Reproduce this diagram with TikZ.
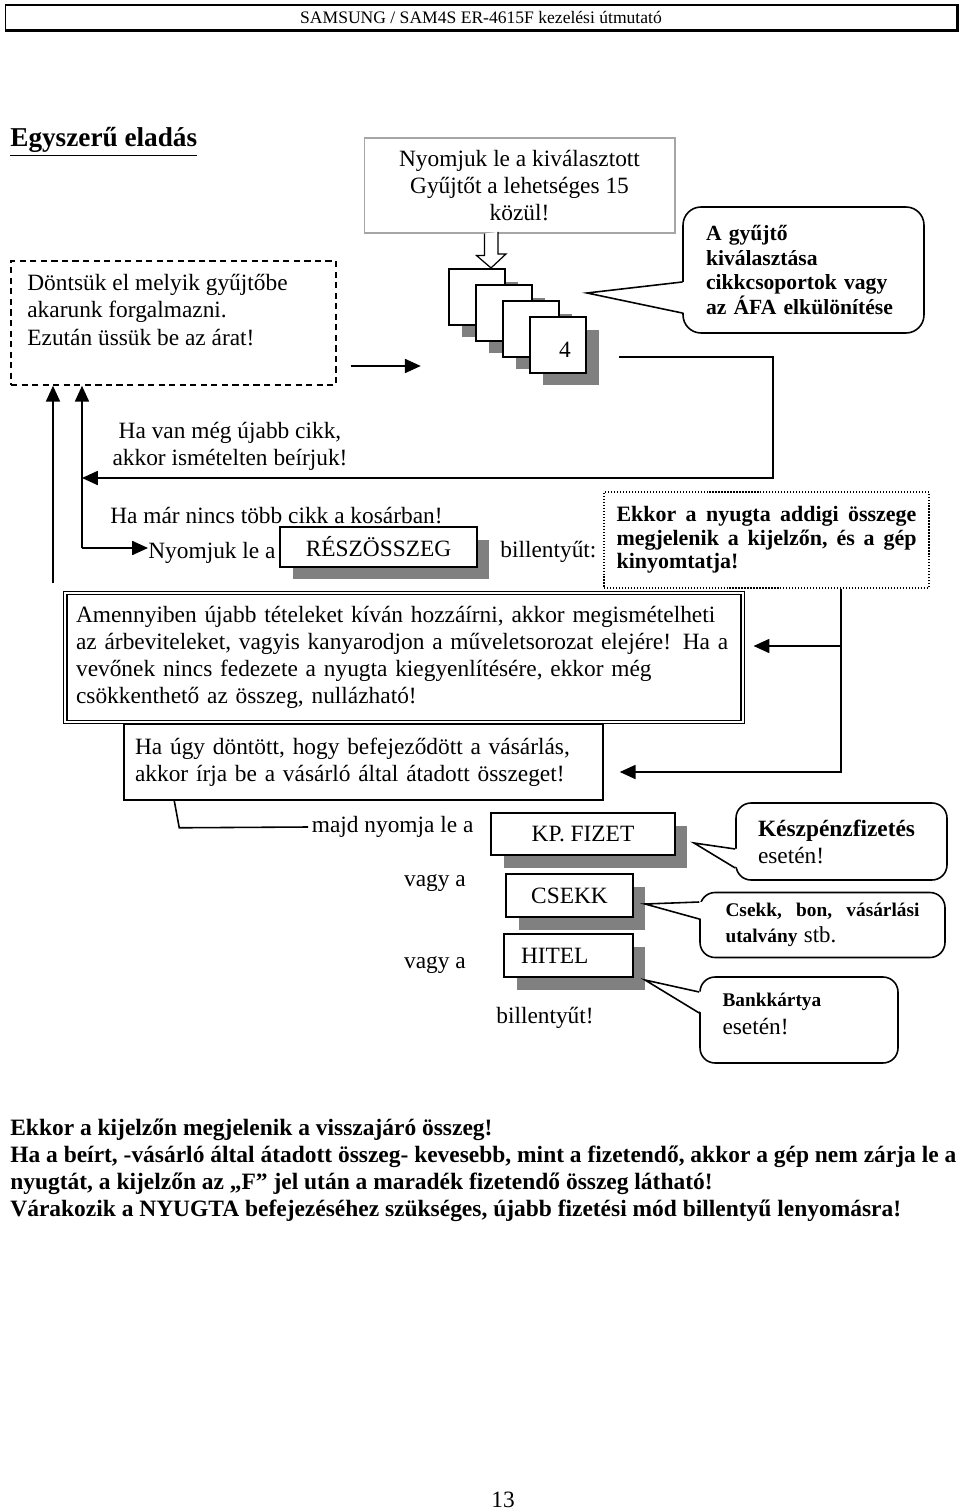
\documentclass[tikz,border=0pt]{standalone}
\usepackage{fontspec}
\setmainfont{Liberation Serif}
\usetikzlibrary{arrows.meta,calc,shadows,positioning}

\newcommand{\alap}{\fontsize{13.3}{15.4}\selectfont}
\newcommand{\kover}{\fontsize{12.3}{14.2}\selectfont\bfseries}
\definecolor{arnyek}{gray}{0.5}

\tikzset{
  szoveg/.style={font=\alap, inner sep=0pt},
  vonal/.style={line width=0.9pt},
  nyil/.style={vonal, -{Triangle[length=9pt,width=8pt]}},
  gomb/.style={draw, line width=1.2pt, fill=white, font=\alap,
    drop shadow={shadow xshift=0.25cm, shadow yshift=-0.25cm, fill=arnyek, opacity=1}},
  lap/.style={gomb, minimum width=1.12cm, minimum height=1.12cm},
  buborek/.style={draw, vonal, fill=white, rounded corners=0.3cm, align=left},
}

\begin{document}
\begin{tikzpicture}[x=0.02cm, y=-0.02cm]
    \useasboundingbox (0,0) rectangle (960,1510);

    % Fejlec
    \node[draw, line width=0.6pt, minimum width=19.04cm, minimum height=0.5cm,
          font=\fontsize{10}{12}\selectfont] (fejlec) at (481,17.5)
          {SAMSUNG / SAM4S ER-4615F kezelési útmutató};
    \draw[line width=1.6pt] (fejlec.north east) -- (fejlec.south east) -- (fejlec.south west);

    % Cim
    \node[szoveg, anchor=base west, font=\fontsize{15.5}{18}\selectfont\bfseries] (cim) at (10,147)
          {\underline{Egyszerű eladás}};

    % Gyujto kivalasztasa
    \node[draw=gray!70, line width=0.6pt, minimum width=6.22cm, minimum height=1.9cm,
          align=center, font=\alap] (gyujto) at (519.5,185.5)
          {Nyomjuk le a kiválasztott\\Gyűjtőt a lehetséges 15\\közül!};

    \node[draw, line width=0.9pt, dash pattern=on 3.5pt off 2.5pt,
          minimum width=6.5cm, minimum height=2.48cm] (dontes) at (173.5,323) {};
    \node[szoveg, anchor=west, align=left] (dontestxt) at (27,310)
          {Döntsük el melyik gyűjtőbe\\akarunk forgalmazni.\\Ezután üssük be az árat!};
    \draw[nyil] ($(dontes.east)+(14,43)$) -- ++(70,0);

    % Gyujto billentyuk
    \foreach \i in {1,...,4}
        \node[lap] (gy\i) at ({450+27*\i},{281+16*\i}) {};
    \node[szoveg] (negy) at (565,350) {4};
    \draw[line width=0.7pt, fill=white] ($(gyujto.south -| 491,0)+(-6.5,0)$) -- ++(0,22) -- ++(-8,0)
        -- (gy1.north -| 491,0) -- ++(15,-14) -- ++(-8,0) -- ++(0,-22);

    % Buborekok
    \node[buborek, rounded corners=0.36cm, minimum width=4.82cm, minimum height=2.52cm,
          text width=3.9cm, inner xsep=0.46cm, font=\kover] (bub0) at (803.5,270)
          {A gyűjtő\\kiválasztása\\cikkcsoportok vagy\\az ÁFA elkülönítése};

    % Visszateres az elejere
    \coordinate (bal0) at (53,583);
    \coordinate (bal1) at (82,478);
    \coordinate (bal2) at (82,548);
    \draw[nyil] ($(gy4.east)+(32,12)$) -| (773,478) -- (bal1);
    \draw[nyil] (bal2) -- (dontes.south -| bal2);
    \draw[nyil] (bal0) -- (dontes.south -| bal0);

    \node[szoveg, align=center] (ujcikk) at (230,446) {Ha van még újabb cikk,\\akkor ismételten beírjuk!};
    \node[szoveg, anchor=west] (nincs) at (110,516) {Ha már nincs több cikk a kosárban!};
    \node[szoveg, anchor=west] (nyomjuk) at (148,553) {Nyomjuk le a};
    \draw[nyil] (bal2) -- (nyomjuk.west |- bal2);
    \node[gomb, minimum width=3.94cm, minimum height=0.8cm] (resz) at (378.5,547) {RÉSZÖSSZEG};
    \node[szoveg, anchor=west] (bill1) at (500,552) {billentyűt:};

    \node[draw, densely dotted, line width=0.7pt, minimum width=6.5cm, minimum height=1.92cm,
          text width=6cm, align=left, font=\fontsize{12.5}{13.3}\selectfont\bfseries] (ekkor) at (766.5,540)
          {Ekkor\hfill a\hfill nyugta\hfill addigi\hfill összege\\
           megjelenik\hfill a\hfill kijelzőn,\hfill és\hfill a\hfill gép\\
           kinyomtatja!};

    % Osszeg
    \node[draw, double, double distance=1.4pt, line width=0.7pt, minimum width=13.56cm,
          minimum height=2.58cm, text width=13.12cm, inner xsep=0.22cm, align=left, font=\alap]
          (amennyiben) at (404,657.5)
          {Amennyiben újabb tételeket kíván hozzáírni, akkor megismételheti\\
           az árbeviteleket, vagyis kanyarodjon a műveletsorozat elejére! Ha a\\
           vevőnek nincs fedezete a nyugta kiegyenlítésére, ekkor még\\
           csökkenthető az összeg, nullázható!};
    \node[draw, line width=0.9pt, minimum height=1.52cm, text width=9.14cm, inner xsep=0.22cm,
          align=left, font=\alap] (vasarlas) at (363.5,762)
          {Ha úgy döntött, hogy befejeződött a vásárlás,\\akkor írja be a vásárló által átadott összeget!};

    \coordinate (ag1) at (841,646);
    \coordinate (ag2) at (841,772);
    \draw[nyil] (ekkor.south -| ag2) |- ($(vasarlas.east |- ag2)+(16,0)$);
    \draw[nyil] (ag1) -- ($(amennyiben.east |- ag1)+(10,0)$);

    % Fizetesi modok
    \node[szoveg, anchor=west, inner xsep=2pt] (majd) at (308,827) {majd nyomja le a};
    \draw[vonal] ($(vasarlas.south west)+(51,0)$) -- ++(5,27) -- (majd.west);
    \node[gomb, minimum width=3.68cm, minimum height=0.84cm] (kp) at (583,834) {KP. FIZET};
    \node[gomb, minimum width=2.54cm, minimum height=0.86cm] (csekk) at (569.5,895.5) {CSEKK};
    \node[gomb, minimum height=0.86cm, text width=1.9cm, inner xsep=0.34cm, align=left] (hitel)
          at (568.5,955.5) {HITEL};
    \node[szoveg] (vagy1) at (435,883) {vagy a};
    \node[szoveg] (vagy2) at (435,965) {vagy a};
    \node[szoveg] (bill2) at (545,1018) {billentyűt!};

    \node[buborek, minimum width=4.22cm, minimum height=1.54cm, text width=3.34cm, inner xsep=0.44cm,
          font=\alap] (bub1) at (841.5,841.5) {\textbf{Készpénzfizetés}\\esetén!};
    \node[buborek, minimum width=4.9cm, minimum height=1.3cm, text width=3.88cm, inner xsep=0.51cm,
          font=\fontsize{11}{15}\selectfont\bfseries] (bub2) at (822.5,925)
          {Csekk,\hfill bon,\hfill vásárlási\\utalvány {\mdseries\fontsize{13}{15}\selectfont stb.}};
    \node[buborek, minimum width=3.96cm, minimum height=1.72cm, text width=3.06cm, inner xsep=0.45cm,
          text depth=0.79cm, font=\alap] (bub3) at (799,1020)
          {{\bfseries\fontsize{11}{13}\selectfont Bankkártya}\\esetén!};

    % Buborek csucsok
    \coordinate (hegy0) at (587,293);
    \coordinate (hegy1) at (694,843);
    \coordinate (hegy2) at (645,904);
    \coordinate (hegy3) at (645,980);
    \foreach \b/\h/\u/\v in {bub0/hegy0/12/43, bub1/hegy1/7.5/26.5, bub2/hegy2/-23/-6, bub3/hegy3/-28/-7} {
        \fill[white] ($(\b.west)+(3,\u)$) -- (\h) -- ($(\b.west)+(3,\v)$) -- cycle;
        \draw[vonal] ($(\b.west)+(0,\u)$) -- (\h) -- ($(\b.west)+(0,\v)$);
    }

    % Zaro szoveg
    \node[szoveg, anchor=west, align=left, font=\fontsize{13.35}{15.4}\selectfont\bfseries] (vege) at (10,1170.5)
          {Ekkor a kijelzőn megjelenik a visszajáró összeg!\\
           Ha a beírt, -vásárló által átadott összeg- kevesebb, mint a fizetendő, akkor a gép nem zárja le a\\
           nyugtát, a kijelzőn az „F” jel után a maradék fizetendő összeg látható!\\
           Várakozik a NYUGTA befejezéséhez szükséges, újabb fizetési mód billentyű lenyomásra!};

    \node[szoveg] (oldal) at (503,1500) {13};
\end{tikzpicture}
\end{document}
